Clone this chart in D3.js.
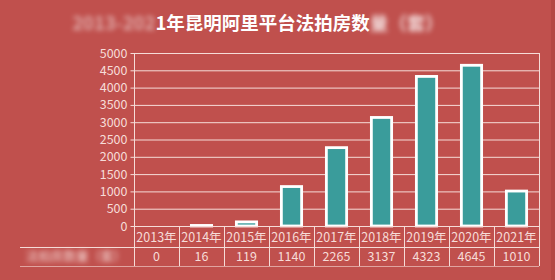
<!DOCTYPE html>
<html>
<head>
<meta charset="utf-8">
<script src="https://cdn.jsdelivr.net/npm/d3@7"></script>
<style>
body { margin: 0; background: #c0504d; }
svg { display: block; }
text { font-family: "Noto Sans CJK SC", "DejaVu Sans", sans-serif; }
</style>
</head>
<body>
<script>
var width = 555,
    height = 280;

// data
var years = ["2013年", "2014年", "2015年", "2016年", "2017年", "2018年", "2019年", "2020年", "2021年"];
var counts = [0, 16, 119, 1140, 2265, 3137, 4323, 4645, 1010];
var yTicks = [0, 500, 1000, 1500, 2000, 2500, 3000, 3500, 4000, 4500, 5000];
var titleHidden = "2013-202";
var titleShown = "1年昆明阿里平台法拍房数";
var titleTail = "量（套）";
var rowLabel = "法拍房数量（套）";

var bg = "#c0504d",
    ink = "#f6dcd8",
    barFill = "#3a9c9b";

// note: "top" is reserved on window, so plot edges get their own names
var plotL = 134, plotR = 539, plotT = 53, plotB = 226;
var row1 = 247, row2 = 266;

var svg = d3.select("body").append("svg")
    .attr("width", width)
    .attr("height", height);

var defs = svg.append("defs");
defs.append("filter").attr("id", "blur")
    .attr("x", "-20%").attr("y", "-50%").attr("width", "140%").attr("height", "200%")
    .append("feGaussianBlur").attr("stdDeviation", 2.6);

svg.append("rect")
    .attr("width", width).attr("height", height)
    .attr("fill", bg);
// darker edge on the right, as in the screenshot
svg.append("rect")
    .attr("x", width - 4).attr("width", 4).attr("height", height)
    .attr("fill", "#b44845");

var x = d3.scaleBand()
    .domain(years)
    .range([plotL, plotR])
    .paddingInner(0.55)
    .paddingOuter(0.275);

var xCell = d3.scaleBand()
    .domain(years)
    .range([plotL, plotR]);

var y = d3.scaleLinear()
    .domain([0, 5000])
    .range([plotB, plotT]);

// gridlines
svg.append("g")
    .selectAll("line")
    .data(yTicks.filter(function (d) { return d > 0; }))
    .enter().append("line")
    .attr("x1", plotL).attr("x2", plotR)
    .attr("y1", function (d) { return y(d) + 0.5; })
    .attr("y2", function (d) { return y(d) + 0.5; })
    .style("stroke", ink)
    .style("stroke-width", 1);

// right border of plot area
svg.append("line")
    .attr("x1", plotR + 0.5).attr("x2", plotR + 0.5)
    .attr("y1", plotT).attr("y2", row2)
    .style("stroke", ink);

// y axis
var yAxis = d3.axisLeft(y)
    .tickValues(yTicks)
    .tickSize(4)
    .tickPadding(3)
    .tickFormat(d3.format("d"));

var ya = svg.append("g")
    .attr("transform", "translate(" + (plotL + 0.5) + ",0)")
    .call(yAxis);
ya.select(".domain").remove();
ya.selectAll("line").style("stroke", ink);
ya.selectAll("text")
    .style("fill", ink)
    .style("font-size", "12.5px")
    .style("font-family", "'Noto Sans CJK SC', sans-serif");
svg.append("line")
    .attr("x1", plotL + 0.5).attr("x2", plotL + 0.5)
    .attr("y1", plotT).attr("y2", row2)
    .style("stroke", ink);

// bars
svg.append("g")
    .selectAll("rect")
    .data(counts)
    .enter().append("rect")
    .attr("x", function (d, i) { return x(years[i]); })
    .attr("width", x.bandwidth())
    .attr("y", function (d) { return y(d); })
    .attr("height", function (d) { return plotB - y(d); })
    .style("fill", barFill)
    .style("stroke", "#ffffff")
    .style("stroke-width", 2.8);

// data table
svg.append("line")
    .attr("x1", plotL).attr("x2", plotR)
    .attr("y1", plotB + 0.5).attr("y2", plotB + 0.5)
    .style("stroke", ink);
svg.append("line")
    .attr("x1", 20).attr("x2", plotR)
    .attr("y1", row1 + 0.5).attr("y2", row1 + 0.5)
    .style("stroke", ink);
svg.append("line")
    .attr("x1", 20).attr("x2", plotR)
    .attr("y1", row2 + 0.5).attr("y2", row2 + 0.5)
    .style("stroke", ink)
    .style("opacity", 0.6);

svg.append("g")
    .selectAll("line")
    .data(years.slice(1))
    .enter().append("line")
    .attr("x1", function (d) { return Math.round(xCell(d)) + 0.5; })
    .attr("x2", function (d) { return Math.round(xCell(d)) + 0.5; })
    .attr("y1", plotB).attr("y2", row2)
    .style("stroke", ink);

svg.append("g")
    .selectAll("text")
    .data(years)
    .enter().append("text")
    .attr("x", function (d) { return xCell(d) + xCell.bandwidth() / 2; })
    .attr("y", plotB + 16)
    .attr("text-anchor", "middle")
    .style("fill", ink)
    .style("font-size", "12.5px")
    .text(function (d) { return d; });

svg.append("g")
    .selectAll("text")
    .data(counts)
    .enter().append("text")
    .attr("x", function (d, i) { return xCell(years[i]) + xCell.bandwidth() / 2; })
    .attr("y", row1 + 14)
    .attr("text-anchor", "middle")
    .style("fill", ink)
    .style("font-size", "12.5px")
    .text(function (d) { return d; });

svg.append("text")
    .attr("x", 76)
    .attr("y", row1 + 14)
    .attr("text-anchor", "middle")
    .attr("filter", "url(#blur)")
    .style("fill", ink)
    .style("font-size", "12.5px")
    .text(rowLabel);

// title
var title = svg.append("text")
    .attr("x", 258)
    .attr("y", 30)
    .attr("text-anchor", "middle")
    .style("fill", "#ffffff")
    .style("font-size", "18.5px")
    .style("font-weight", "bold");
title.append("tspan").attr("filter", "url(#blur)").style("opacity", 0.5).text(titleHidden);
title.append("tspan").text(titleShown);
title.append("tspan").attr("filter", "url(#blur)").style("opacity", 0.8).text(titleTail);
</script>
</body>
</html>
